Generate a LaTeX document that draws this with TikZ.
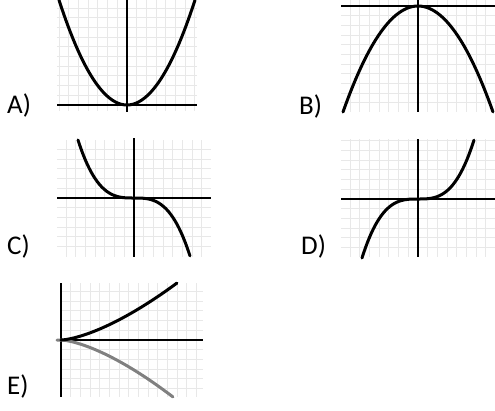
\documentclass[tikz,border=0pt]{standalone}
\usepackage{fontspec}
\setmainfont{Carlito}
\usepackage{tikz}
\usetikzlibrary{positioning}
\tikzset{
  paper/.style={line width=1pt, black!9},
  axisline/.style={line width=2pt, black},
  curveline/.style={line width=3pt, black, line cap=round},
  letter/.style={anchor=base west, inner sep=0pt, font=\fontsize{27}{30}\selectfont},
}

\begin{document}
\begin{tikzpicture}[x=1pt, y=-1pt]
    \useasboundingbox (0,0) rectangle (495,410);

    % A) parabola opening up
    \begin{scope}[shift={(127,105)}]
        \foreach \i in {-7,...,7} \draw[paper] ({\i*9.67},-105) -- ({\i*9.67},6);
        \foreach \j in {-10,...,0} \draw[paper] (-70,{\j*9.67}) -- (70,{\j*9.67});
        \draw[axisline] (-70,0) -- (70,0);
        \draw[axisline] (0,-105) -- (0,7);
        \draw[curveline, domain=-1:1, samples=60] plot ({68*\x},{-105*\x*\x});
    \end{scope}
    \node[letter] (labA) at (7,113) {A)};

    % B) parabola opening down
    \begin{scope}[shift={(418,6)}]
        \foreach \i in {-7,...,7} \draw[paper] ({\i*9.67},-6) -- ({\i*9.67},106);
        \foreach \j in {0,...,10} \draw[paper] (-77,{\j*9.67}) -- (77,{\j*9.67});
        \draw[axisline] (-77,0) -- (77,0);
        \draw[axisline] (0,-6) -- (0,106);
        \draw[curveline, domain=-1:1, samples=60] plot ({75*\x},{106*\x*\x});
    \end{scope}
    \node[letter] (labB) at (299,114) {B)};

    % C) falling cubic
    \begin{scope}[shift={(134,198)}]
        \foreach \i in {-7,...,7} \draw[paper] ({\i*9.67},-58) -- ({\i*9.67},59);
        \foreach \j in {-5,...,5} \draw[paper] (-77,{\j*9.67}) -- (77,{\j*9.67});
        \draw[axisline] (-77,0) -- (77,0);
        \draw[axisline] (0,-60) -- (0,59);
        \draw[curveline, domain=-1:1, samples=60] plot ({56*\x},{58*\x*\x*\x});
    \end{scope}
    \node[letter] (labC) at (7,254) {C)};

    % D) rising cubic
    \begin{scope}[shift={(418,199)}]
        \foreach \i in {-7,...,7} \draw[paper] ({\i*9.67},-60) -- ({\i*9.67},58);
        \foreach \j in {-6,...,5} \draw[paper] (-77,{\j*9.67}) -- (77,{\j*9.67});
        \draw[axisline] (-77,0) -- (77,0);
        \draw[axisline] (0,-60) -- (0,58);
        \draw[curveline, domain=-1:1, samples=60] plot ({56*\x},{-59*\x*\x*\x});
    \end{scope}
    \node[letter] (labD) at (301,254) {D)};

    % E) two branches
    \begin{scope}[shift={(61,340)}]
        \foreach \i in {1,...,14} \draw[paper] ({\i*9.67},-57) -- ({\i*9.67},57);
        \foreach \j in {-5,...,5} \draw[paper] (0,{\j*9.67}) -- (142,{\j*9.67});
        \draw[axisline] (0,0) -- (142,0);
        \draw[axisline] (0,-57) -- (0,57);
        \draw[curveline, black!50, domain=0:1, samples=60] (-4,0) -- plot ({112*\x},{57*\x*sqrt(\x)});
        \draw[curveline, domain=0:1, samples=60] plot ({116*\x},{-57*\x*sqrt(\x)});
    \end{scope}
    \node[letter] (labE) at (7,394) {E)};
\end{tikzpicture}
\end{document}
